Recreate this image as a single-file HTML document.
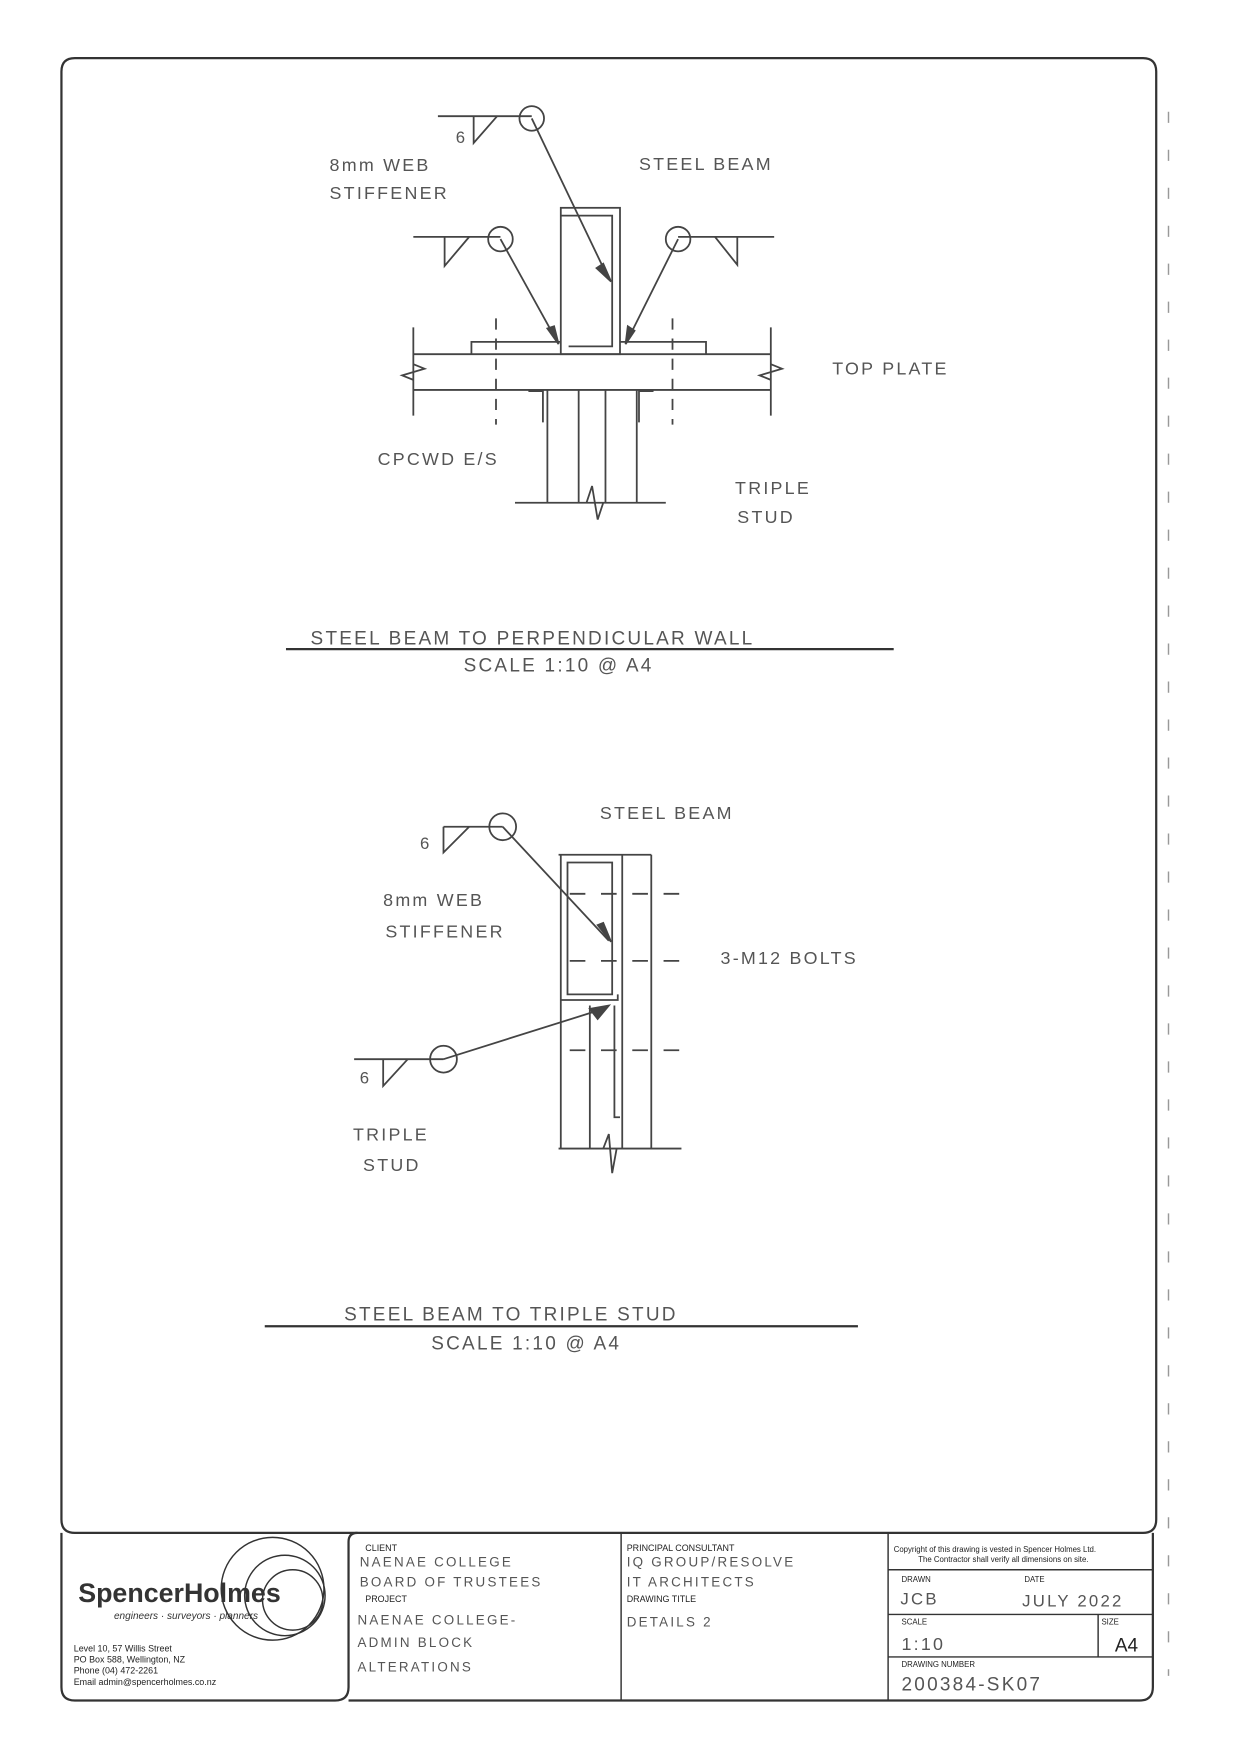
<!DOCTYPE html>
<html><head><meta charset="utf-8"><style>
html,body{margin:0;padding:0;background:#fff;}
svg{display:block;}
text{font-family:"Liberation Sans",sans-serif;fill:#444;}
.h{font-size:16px;letter-spacing:2px;fill:#555;}
.s{font-size:8px;fill:#222;}
</style></head><body>
<svg width="1240" height="1753" viewBox="0 0 1110 1569" preserveAspectRatio="none" xmlns="http://www.w3.org/2000/svg">
<g fill="none" stroke="#333" stroke-width="2">
<path d="M67 52 H1023 Q1035 52 1035 64 V1360 Q1035 1372 1023 1372 H67 Q55 1372 55 1360 V64 Q55 52 67 52 Z"/>
<path d="M55 1372 V1510 Q55 1522 67 1522 H300 Q312 1522 312 1510 V1380 Q312 1372 320 1372"/>
<path d="M312 1522 H1020 Q1032 1522 1032 1510 V1372"/>
</g>
<g stroke="#333" stroke-width="1.3" fill="none">
<line x1="556" y1="1372" x2="556" y2="1522"/>
<line x1="795" y1="1372" x2="795" y2="1522"/>
<line x1="795" y1="1405" x2="1032" y2="1405"/>
<line x1="795" y1="1445" x2="1032" y2="1445"/>
<line x1="795" y1="1483" x2="1032" y2="1483"/>
<line x1="983" y1="1445" x2="983" y2="1483"/>
<circle cx="244" cy="1422" r="46"/><circle cx="255" cy="1428" r="36"/><circle cx="262" cy="1432" r="27"/>
<line x1="1046" y1="100" x2="1046" y2="1500" stroke-dasharray="10 24" stroke="#999"/>
</g>
<text x="70" y="1434" style="font-size:24px;font-weight:bold;fill:#333">SpencerHolmes</text>
<text x="102" y="1449" style="font-size:9px;font-style:italic;fill:#333">engineers  ·  surveyors  ·  planners</text>
<text x="66" y="1478" class="s">Level 10, 57 Willis Street</text>
<text x="66" y="1488" class="s">PO Box 588, Wellington, NZ</text>
<text x="66" y="1498" class="s">Phone (04) 472-2261</text>
<text x="66" y="1508" class="s">Email admin@spencerholmes.co.nz</text>
<text x="327" y="1388" class="s">CLIENT</text>
<text x="322" y="1402" class="h" style="font-size:12px">NAENAE COLLEGE</text>
<text x="322" y="1420" class="h" style="font-size:12px">BOARD OF TRUSTEES</text>
<text x="327" y="1434" class="s">PROJECT</text>
<text x="320" y="1454" class="h" style="font-size:12px">NAENAE COLLEGE-</text>
<text x="320" y="1474" class="h" style="font-size:12px">ADMIN BLOCK</text>
<text x="320" y="1496" class="h" style="font-size:12px">ALTERATIONS</text>
<text x="561" y="1388" class="s">PRINCIPAL CONSULTANT</text>
<text x="561" y="1402" class="h" style="font-size:12px">IQ GROUP/RESOLVE</text>
<text x="561" y="1420" class="h" style="font-size:12px">IT ARCHITECTS</text>
<text x="561" y="1434" class="s">DRAWING TITLE</text>
<text x="561" y="1456" class="h" style="font-size:12px">DETAILS  2</text>
<text x="800" y="1389" class="s" style="font-size:7px">Copyright of this drawing is vested in Spencer Holmes Ltd.</text>
<text x="822" y="1398" class="s" style="font-size:7px">The Contractor shall verify all dimensions on site.</text>
<text x="807" y="1416" class="s" style="font-size:7px">DRAWN</text>
<text x="917" y="1416" class="s" style="font-size:7px">DATE</text>
<text x="806" y="1436" class="h" style="font-size:15px">JCB</text>
<text x="915" y="1438" class="h" style="font-size:15px">JULY 2022</text>
<text x="807" y="1454" class="s" style="font-size:7px">SCALE</text>
<text x="986" y="1454" class="s" style="font-size:7px">SIZE</text>
<text x="807" y="1477" class="h" style="font-size:16px">1:10</text>
<text x="998" y="1478" style="font-size:17px;fill:#222">A4</text>
<text x="807" y="1492" class="s" style="font-size:7px">DRAWING NUMBER</text>
<text x="807" y="1513" class="h" style="font-size:17px">200384-SK07</text>

<g stroke="#444" stroke-width="1.6" fill="none">
<line x1="392" y1="104" x2="476" y2="104"/><circle cx="476" cy="106" r="11"/>
<path d="M424 104 V128 L445 104"/>
<line x1="476" y1="106" x2="545" y2="250"/>
<path d="M540 236 L547 252 L534 240 Z" fill="#444"/>
<rect x="502" y="186" width="53" height="131"/>
<path d="M502 193 H548 V310 H509"/>
<line x1="370" y1="212" x2="448" y2="212"/><circle cx="448" cy="214" r="11"/>
<path d="M398 212 V238 L420 212"/>
<line x1="448" y1="214" x2="500" y2="308"/>
<path d="M490 294 L500 308 L496 292 Z" fill="#444"/>
<line x1="607" y1="212" x2="693" y2="212"/><circle cx="607" cy="214" r="11"/>
<path d="M640 212 L660 237 V212"/>
<line x1="607" y1="214" x2="560" y2="308"/>
<path d="M562 292 L560 308 L568 296 Z" fill="#444"/>
<path d="M422 317 V306 H502 M555 306 H632 V317"/>
<line x1="370" y1="317" x2="690" y2="317"/><line x1="370" y1="349" x2="690" y2="349"/>
<line x1="370" y1="293" x2="370" y2="372"/><line x1="690" y1="293" x2="690" y2="372"/>
<path d="M370 326 L380 330 L360 336 L370 340"/>
<path d="M690 326 L700 330 L680 336 L690 340"/>
<line x1="444" y1="285" x2="444" y2="380" stroke-dasharray="10 8"/>
<line x1="602" y1="285" x2="602" y2="380" stroke-dasharray="10 8"/>
<path d="M473 350 H486 V378"/><path d="M585 350 H572 V378"/>
<line x1="490" y1="349" x2="490" y2="450"/><line x1="518" y1="349" x2="518" y2="450"/>
<line x1="542" y1="349" x2="542" y2="450"/><line x1="570" y1="349" x2="570" y2="450"/>
<line x1="461" y1="450" x2="596" y2="450"/>
<path d="M525 450 L530 435 L535 465 L540 450"/>
<line x1="256" y1="581" x2="800" y2="581" stroke="#333" stroke-width="2"/>
<line x1="397" y1="740" x2="450" y2="740"/><circle cx="450" cy="740" r="12"/>
<path d="M397 740 V763 L420 740"/>
<line x1="450" y1="740" x2="545" y2="842"/>
<path d="M535 828 L547 843 L540 826 Z" fill="#444"/>
<line x1="500" y1="765" x2="583" y2="765"/>
<line x1="502" y1="765" x2="502" y2="1028"/><line x1="557" y1="765" x2="557" y2="1028"/>
<line x1="583" y1="765" x2="583" y2="1028"/>
<path d="M508 772 H548 V890 H508 Z"/>
<path d="M502 895 H553 V890"/>
<line x1="528" y1="900" x2="528" y2="1028"/>
<path d="M550 900 V1000 H555"/>
<line x1="510" y1="800" x2="615" y2="800" stroke-dasharray="14 14"/>
<line x1="510" y1="860" x2="615" y2="860" stroke-dasharray="14 14"/>
<line x1="510" y1="940" x2="615" y2="940" stroke-dasharray="14 14"/>
<line x1="317" y1="948" x2="397" y2="948"/><circle cx="397" cy="948" r="12"/>
<path d="M343 948 V972 L365 948"/>
<line x1="397" y1="948" x2="540" y2="903"/>
<path d="M528 903 L545 900 L535 912 Z" fill="#444"/>
<line x1="500" y1="1028" x2="610" y2="1028"/>
<path d="M540 1028 L545 1015 L548 1050 L552 1028"/>
<line x1="237" y1="1187" x2="768" y2="1187" stroke="#333" stroke-width="2"/>
</g>
<text x="408" y="128" class="h" style="font-size:15px">6</text>
<text x="295" y="153" class="h">8mm WEB</text>
<text x="295" y="178" class="h">STIFFENER</text>
<text x="572" y="152" class="h">STEEL BEAM</text>
<text x="745" y="335" class="h">TOP PLATE</text>
<text x="338" y="416" class="h">CPCWD E/S</text>
<text x="658" y="442" class="h">TRIPLE</text>
<text x="660" y="468" class="h">STUD</text>
<text x="278" y="577" class="h" style="font-size:17px">STEEL BEAM TO PERPENDICULAR WALL</text>
<text x="415" y="601" class="h" style="font-size:17px">SCALE 1:10 @ A4</text>
<text x="376" y="760" class="h" style="font-size:15px">6</text>
<text x="537" y="733" class="h">STEEL BEAM</text>
<text x="343" y="811" class="h">8mm WEB</text>
<text x="345" y="839" class="h">STIFFENER</text>
<text x="645" y="863" class="h">3-M12 BOLTS</text>
<text x="322" y="970" class="h" style="font-size:15px">6</text>
<text x="316" y="1021" class="h">TRIPLE</text>
<text x="325" y="1048" class="h">STUD</text>
<text x="308" y="1182" class="h" style="font-size:17px">STEEL BEAM TO TRIPLE STUD</text>
<text x="386" y="1208" class="h" style="font-size:17px">SCALE 1:10 @ A4</text>
</svg>
</body></html>
